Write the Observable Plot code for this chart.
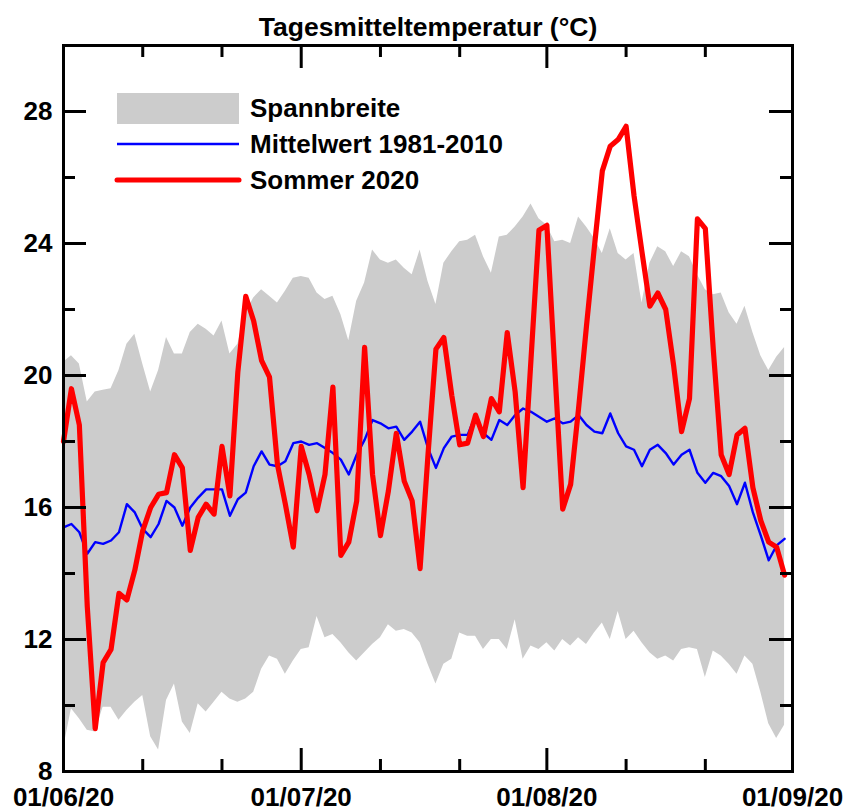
<!DOCTYPE html>
<html><head><meta charset="utf-8">
<script src="https://cdn.jsdelivr.net/npm/d3@7"></script>
<script src="https://cdn.jsdelivr.net/npm/@observablehq/plot@0.6"></script>
<style>
body{margin:0;background:#fff;}
#wrap{position:relative;width:845px;height:812px;font-family:"Liberation Sans",Arial,sans-serif;}
#title{position:absolute;left:0;top:12px;width:856px;text-align:center;font-weight:bold;font-size:26.5px;line-height:30px;color:#000;z-index:2;}
#chart{position:absolute;left:0;top:0;}
</style></head><body>
<div id="wrap"><div id="title">Tagesmitteltemperatur (°C)</div><div id="chart"></div></div>
<script>
const startDate = "2020-06-01";
const endDate = "2020-09-01";
const sommer2020 = [18.0,19.6,18.5,13.0,9.3,11.3,11.7,13.4,13.2,14.1,
 15.3,16.0,16.4,16.45,17.6,17.2,14.7,15.7,16.1,15.8,
 17.85,16.35,20.1,22.4,21.65,20.45,19.95,17.3,16.1,14.8,
 17.85,17.0,15.9,17.0,19.65,14.55,14.95,16.2,20.85,17.0,
 15.15,16.5,18.25,16.8,16.2,14.15,17.6,20.8,21.15,19.4,
 17.9,17.95,18.8,18.15,19.3,18.9,21.3,19.5,16.6,20.5,
 24.4,24.55,20.2,15.95,16.7,19.0,21.5,23.9,26.2,26.95,
 27.15,27.55,25.45,23.75,22.1,22.5,22.0,20.3,18.3,19.3,
 24.75,24.45,20.8,17.6,17.0,18.2,18.4,16.6,15.6,14.95,
 14.8,13.95];
const mittelwert = [15.4,15.5,15.25,14.6,14.95,14.9,15.0,15.25,16.1,15.85,
 15.35,15.1,15.5,16.2,16.0,15.45,16.0,16.3,16.55,16.55,
 16.55,15.75,16.25,16.45,17.25,17.7,17.3,17.25,17.4,17.95,
 18.0,17.9,17.95,17.8,17.65,17.45,17.0,17.6,18.05,18.65,
 18.55,18.4,18.45,18.05,18.3,18.6,17.8,17.2,17.8,18.15,
 18.2,18.2,18.8,18.25,18.05,18.65,18.5,18.8,19.0,18.9,
 18.75,18.6,18.7,18.55,18.6,18.8,18.5,18.3,18.25,18.85,
 18.25,17.85,17.75,17.25,17.75,17.9,17.65,17.3,17.6,17.75,
 17.05,16.75,17.05,16.95,16.65,16.1,16.75,15.85,15.15,14.4,
 14.85,15.05];
const spanMax = [20.4,20.6,20.35,19.2,19.5,19.55,19.6,20.15,20.95,21.25,
 20.35,19.5,20.15,21.15,20.65,20.65,21.3,21.55,21.4,21.2,
 21.65,20.65,20.95,21.9,22.35,22.6,22.4,22.2,22.55,22.95,
 23.0,22.95,22.5,22.3,22.4,21.85,21.05,22.25,22.8,23.8,
 23.5,23.4,23.5,23.25,23.05,23.8,22.85,22.15,23.4,23.75,
 24.05,24.1,24.25,23.6,23.1,24.2,24.25,24.5,24.8,25.2,
 24.75,24.55,24.05,24.1,24.0,24.8,24.5,24.15,23.7,24.45,
 23.7,23.5,23.7,22.2,23.4,23.9,23.75,23.3,23.75,23.6,
 23.05,22.6,22.45,22.5,21.9,21.55,22.1,21.3,20.6,20.15,
 20.55,20.85];
const spanMin = [8.7,9.9,9.6,9.25,9.2,9.95,9.95,9.55,9.85,10.1,
 10.3,9.05,8.65,10.15,10.65,9.5,9.15,10.05,9.8,10.1,
 10.4,10.2,10.1,10.2,10.4,11.1,11.5,11.4,10.95,11.35,
 11.7,11.75,12.7,12.05,12.15,11.9,11.6,11.35,11.6,11.85,
 12.05,12.45,12.25,12.3,12.2,11.9,11.25,10.65,11.25,11.4,
 12.2,12.1,12.1,11.7,12.0,12.0,11.7,12.6,11.4,11.8,
 11.7,11.9,11.65,12.0,11.8,12.05,11.85,12.2,12.5,12.0,
 12.85,12.0,12.25,11.9,11.6,11.4,11.5,11.35,11.7,11.75,
 11.7,10.85,11.65,11.5,11.25,10.95,11.5,11.25,10.4,9.45,
 9.0,9.4];
const yLabelTicks = [8,12,16,20,24,28];
const yMinorTicks = [10,14,18,22,26];
const xLabelDates = ["2020-06-01","2020-07-01","2020-08-01","2020-09-01"];
const xMinorDates = ["2020-06-11","2020-06-21","2020-07-11","2020-07-21","2020-08-11","2020-08-21"];
const legendLabels = ["Spannbreite","Mittelwert 1981-2010","Sommer 2020"];

const t0 = new Date(startDate + "T00:00Z");
const data = sommer2020.map((v, i) => ({
  date: d3.utcDay.offset(t0, i),
  temp: v, mean: mittelwert[i], hi: spanMax[i], lo: spanMin[i]
}));
const xMajor = xLabelDates.map(s => new Date(s + "T00:00Z"));
const xMinor = xMinorDates.map(s => new Date(s + "T00:00Z"));
const yMajorInner = yLabelTicks.filter(v => v > 8);

const W = 845, H = 812, mL = 63, mR = 53, mT = 45, mB = 41;
const plotW = W - mL - mR, plotH = H - mT - mB;
const LONG = 23, SHORT = 12, SW = 3;

const chart = Plot.plot({
  width: W, height: H,
  marginLeft: mL, marginRight: mR, marginTop: mT, marginBottom: mB,
  style: {fontFamily: "'Liberation Sans', Arial, sans-serif", fontSize: "26px", fontWeight: "bold", color: "#000", background: "transparent", overflow: "visible"},
  x: {type: "utc", domain: [t0, new Date(endDate + "T00:00Z")]},
  y: {domain: [8, 30]},
  marks: [
    Plot.areaY(data, {x: "date", y1: "lo", y2: "hi", fill: "#cccccc", curve: "linear"}),
    Plot.lineY(data, {x: "date", y: "mean", stroke: "#0000ff", strokeWidth: 2.4}),
    Plot.lineY(data, {x: "date", y: "temp", stroke: "#ff0000", strokeWidth: 5.2, strokeLinejoin: "round"}),
    Plot.ruleX(xMajor, {insetTop: plotH - LONG, stroke: "#000", strokeWidth: SW}),
    Plot.ruleX(xMajor, {insetBottom: plotH - LONG, stroke: "#000", strokeWidth: SW}),
    Plot.ruleX(xMinor, {insetTop: plotH - SHORT, stroke: "#000", strokeWidth: SW}),
    Plot.ruleX(xMinor, {insetBottom: plotH - SHORT, stroke: "#000", strokeWidth: SW}),
    Plot.ruleY(yMajorInner, {insetRight: plotW - LONG, stroke: "#000", strokeWidth: SW}),
    Plot.ruleY(yMinorTicks, {insetRight: plotW - SHORT, stroke: "#000", strokeWidth: SW}),
    Plot.ruleY(yMajorInner, {insetLeft: plotW - LONG, stroke: "#000", strokeWidth: SW}),
    Plot.ruleY(yMinorTicks, {insetLeft: plotW - SHORT, stroke: "#000", strokeWidth: SW}),
    Plot.axisX(xMajor, {tickSize: 0, tickPadding: 16, tickFormat: d3.utcFormat("%d/%m/%y"), fontSize: 26, fontWeight: "bold", fill: "#000"}),
    Plot.axisY(yLabelTicks, {tickSize: 0, tickPadding: 11, tickFormat: d => String(d), fontSize: 26, fontWeight: "bold", fill: "#000"}),
    Plot.frame({stroke: "#000", strokeWidth: SW})
  ]
});
document.getElementById("chart").appendChild(chart);

// legend inside the plot
const svg = d3.select(chart);
const lg = svg.append("g")
  .attr("font-family", "'Liberation Sans', Arial, sans-serif")
  .attr("font-weight", "bold").attr("font-size", 26).attr("text-anchor", "start");
const lx = 117, lw = 122, tx = 250;
lg.append("rect").attr("x", lx).attr("y", 93).attr("width", lw).attr("height", 31).attr("fill", "#cccccc");
lg.append("line").attr("x1", lx).attr("x2", lx + lw).attr("y1", 144).attr("y2", 144).attr("stroke", "#0000ff").attr("stroke-width", 2.4);
lg.append("line").attr("x1", lx).attr("x2", lx + lw).attr("y1", 180).attr("y2", 180).attr("stroke", "#ff0000").attr("stroke-width", 5).attr("stroke-linecap", "round");
[108, 144, 180].forEach((y, i) => {
  lg.append("text").attr("x", tx).attr("y", y).attr("dy", "0.36em").attr("text-anchor", "start").attr("fill", "#000").text(legendLabels[i]);
});
</script>
</body></html>
